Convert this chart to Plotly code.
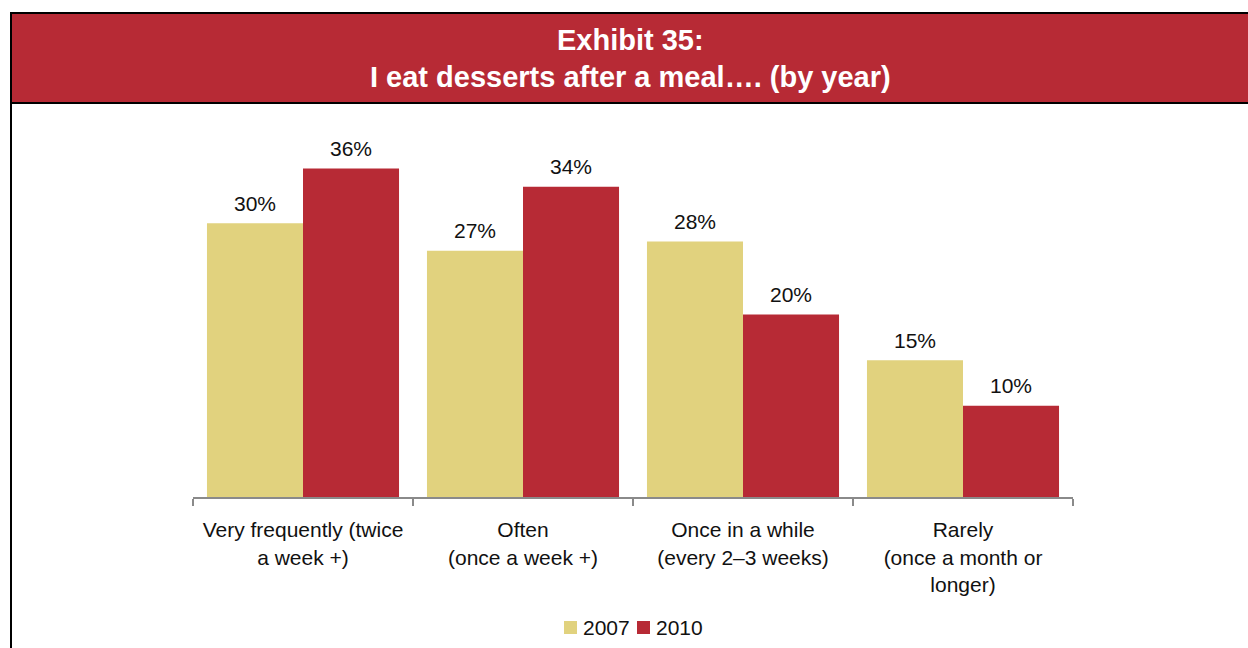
import plotly.graph_objects as go

categories = [
    "Very frequently (twice<br>a week +)",
    "Often<br>(once a week +)",
    "Once in a while<br>(every 2–3 weeks)",
    "Rarely<br>(once a month or<br>longer)",
]
years = ["2007", "2010"]
values_2007 = [30, 27, 28, 15]
values_2010 = [36, 34, 20, 10]

title_line1 = "Exhibit 35:"
title_line2 = "I eat desserts after a meal…. (by year)"

COLOR_2007 = "#E1D27E"
COLOR_2010 = "#B72A35"
FONT = "Liberation Sans, Arial, sans-serif"
TEXT = "#111111"
AXIS = "#8a8a8a"

W, H = 1248, 648
L, R, T, B = 193, 175, 132, 151
PW, PH = W - L - R, H - T - B


def px_x(x):
    return (x - L) / PW


def px_y(y):
    return (H - B - y) / PH


fig = go.Figure()
series = [(years[0], values_2007, COLOR_2007), (years[1], values_2010, COLOR_2010)]
for name, vals, col in series:
    fig.add_trace(go.Bar(x=categories, y=vals, name=name, marker=dict(color=col, line=dict(width=0))))

# value labels above each bar
annotations = []
for (name, vals, col), shift in zip(series, (-48, 48)):
    for cat, v in zip(categories, vals):
        annotations.append(dict(
            x=cat, y=v, xref="x", yref="y", text=f"{v}%", showarrow=False,
            xshift=shift, yshift=20, yanchor="middle",
            font=dict(family=FONT, size=21, color=TEXT),
        ))

# header text
annotations.append(dict(x=px_x(630), y=px_y(40), xref="paper", yref="paper", text=f"<b>{title_line1}</b>",
                        showarrow=False, xanchor="center", yanchor="middle",
                        font=dict(family=FONT, size=29, color="white")))
annotations.append(dict(x=px_x(630), y=px_y(77), xref="paper", yref="paper", text=f"<b>{title_line2}</b>",
                        showarrow=False, xanchor="center", yanchor="middle",
                        font=dict(family=FONT, size=29, color="white")))

shapes = [
    dict(type="rect", xref="paper", yref="paper", x0=px_x(11), x1=px_x(1252), y0=px_y(103), y1=px_y(13),
         fillcolor=COLOR_2010, line=dict(color="black", width=2), layer="below"),
    dict(type="line", xref="paper", yref="paper", x0=px_x(11), x1=px_x(11), y0=px_y(103), y1=px_y(652),
         line=dict(color="black", width=2)),
]

# legend row: coloured square followed by the year
legend_x = [564, 637]
for (name, vals, col), lx in zip(series, legend_x):
    shapes.append(dict(type="rect", xref="paper", yref="paper",
                       x0=px_x(lx), x1=px_x(lx + 13), y0=px_y(634), y1=px_y(621),
                       fillcolor=col, line=dict(width=0)))
    annotations.append(dict(x=px_x(lx + 17), y=px_y(627), xref="paper", yref="paper", text=name,
                            showarrow=False, xanchor="left", yanchor="middle",
                            font=dict(family=FONT, size=21, color=TEXT)))

fig.update_layout(
    width=W, height=H,
    margin=dict(l=L, r=R, t=T, b=B, autoexpand=False),
    paper_bgcolor="white", plot_bgcolor="white",
    barmode="group", bargap=0.127, bargroupgap=0,
    font=dict(family=FONT, size=21, color=TEXT),
    showlegend=False,
    annotations=annotations,
    shapes=shapes,
)
fig.update_xaxes(
    type="category", categoryorder="array", categoryarray=categories,
    showline=True, linecolor=AXIS, linewidth=2,
    ticks="outside", tickson="boundaries", ticklen=7, tickcolor=AXIS, tickwidth=2,
    ticklabelstandoff=13, automargin=False,
    showgrid=False, zeroline=False, tickfont=dict(family=FONT, size=21, color=TEXT),
)
fig.update_yaxes(range=[0, 40], visible=False, showgrid=False, zeroline=False)

fig.write_html("out.html")
